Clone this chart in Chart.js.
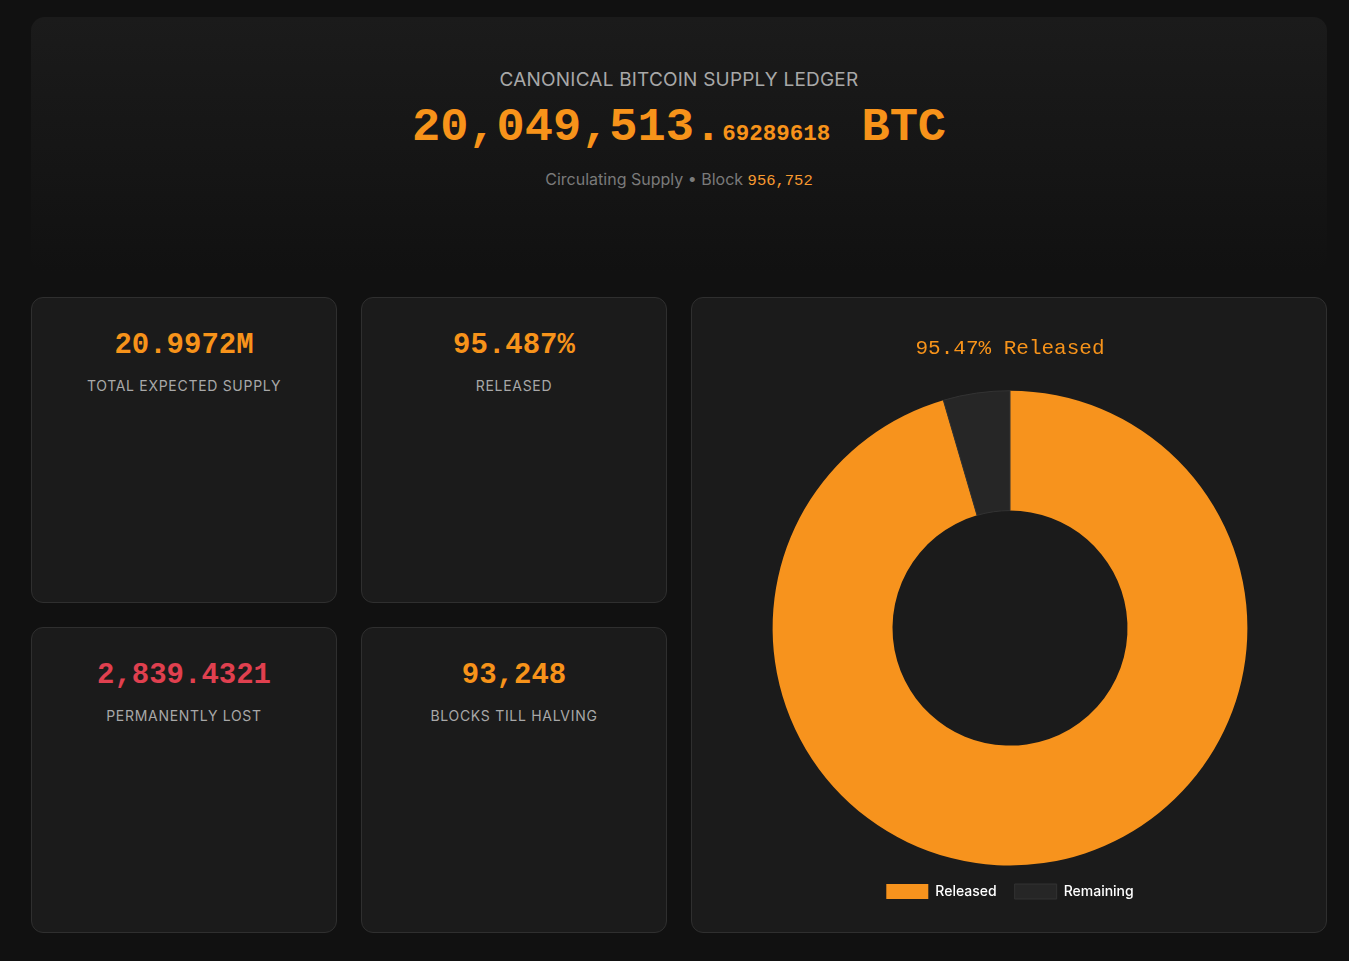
<!DOCTYPE html>
<html>
<head>
<meta charset="utf-8">
<script src="https://cdn.jsdelivr.net/npm/chart.js@4.4.1/dist/chart.umd.min.js"></script>
<style>
  html, body { margin:0; padding:0; background:#111111; }
  body { width:1349px; height:961px; font-family: Inter, "Noto Sans", sans-serif; position:relative; overflow:hidden; }
  .hero { position:absolute; left:31px; top:17px; width:1296px; height:255px; border-radius:14px;
          background:linear-gradient(to bottom, #1b1b1b 0%, #111111 100%); text-align:center; }
  .hero .t { position:absolute; top:51px; width:100%; font-size:19px; color:#a8a8a8; letter-spacing:0.2px; }
  .hero .big { position:absolute; left:0px; top:83px; width:100%; font-family:"Liberation Mono","Courier New",monospace; font-weight:bold; color:#f7931a; font-size:47px; line-height:56px; }
  .hero .big .dec { font-size:22.5px; }
  .hero .big .u { margin-left:3px; }
  .hero .sub { position:absolute; top:152px; width:100%; font-size:16px; color:#7a7a7a; }
  .hero .sub .m { font-family:"Liberation Mono",monospace; color:#f89a30; font-size:15.5px; }
  .card { position:absolute; background:#1b1b1b; border:1px solid #2f2f2f; border-radius:12px; box-sizing:border-box; text-align:center; }
  .card .v { position:absolute; top:30px; width:100%; font-family:"Liberation Mono","Courier New",monospace; font-weight:bold; font-size:29px; line-height:36px; color:#f7931a; }
  .card .v.red { color:#e0404f; }
  .card .l { position:absolute; top:79px; width:100%; font-size:14px; color:#a8a8a8; letter-spacing:0.7px; }
  #chartCard { left:691px; top:297px; width:636px; height:636px; }
  #chartWrap { position:absolute; left:24px; top:26px; width:588px; height:585px; }
</style>
</head>
<body>
<div class="hero">
  <div class="t">CANONICAL BITCOIN SUPPLY LEDGER</div>
  <div class="big">20,049,513.<span class="dec">69289618</span> <span class="u">BTC</span></div>
  <div class="sub">Circulating Supply • Block <span class="m">956,752</span></div>
</div>
<div class="card" style="left:31px;top:297px;width:306px;height:306px;"><div class="v">20.9972M</div><div class="l">TOTAL EXPECTED SUPPLY</div></div>
<div class="card" style="left:361px;top:297px;width:306px;height:306px;"><div class="v">95.487%</div><div class="l">RELEASED</div></div>
<div class="card" style="left:31px;top:627px;width:306px;height:306px;"><div class="v red">2,839.4321</div><div class="l">PERMANENTLY LOST</div></div>
<div class="card" style="left:361px;top:627px;width:306px;height:306px;"><div class="v">93,248</div><div class="l">BLOCKS TILL HALVING</div></div>
<div class="card" id="chartCard"><div id="chartWrap"><canvas id="c"></canvas></div></div>
<script>
const labels = ["Released", "Remaining"];
const values = [95.47, 4.53];
const colors = ["#f7931d", "#262626"];
const borders = ["#1b1b1b", "#333333"];
const titleText = "95.47% Released";

new Chart(document.getElementById("c"), {
  type: "doughnut",
  data: { labels: labels, datasets: [{ data: values, backgroundColor: colors, borderColor: borders, borderWidth: [0, 1] }] },
  options: {
    responsive: true, maintainAspectRatio: false, animation: false,
    cutout: "49.5%",
    plugins: {
      title: { display: true, text: titleText, color: "#f7931a",
               font: { family: "'Liberation Mono', 'DejaVu Serif', monospace", size: 21, weight: "normal" }, padding: { top: 12, bottom: 29 } },
      legend: { position: "bottom", labels: { color: "#ffffff", boxWidth: 42, boxHeight: 15,
               font: { family: "Inter, sans-serif", size: 14, weight: "500" }, padding: 18 } },
      tooltip: { enabled: false }
    }
  }
});
</script>
</body>
</html>
